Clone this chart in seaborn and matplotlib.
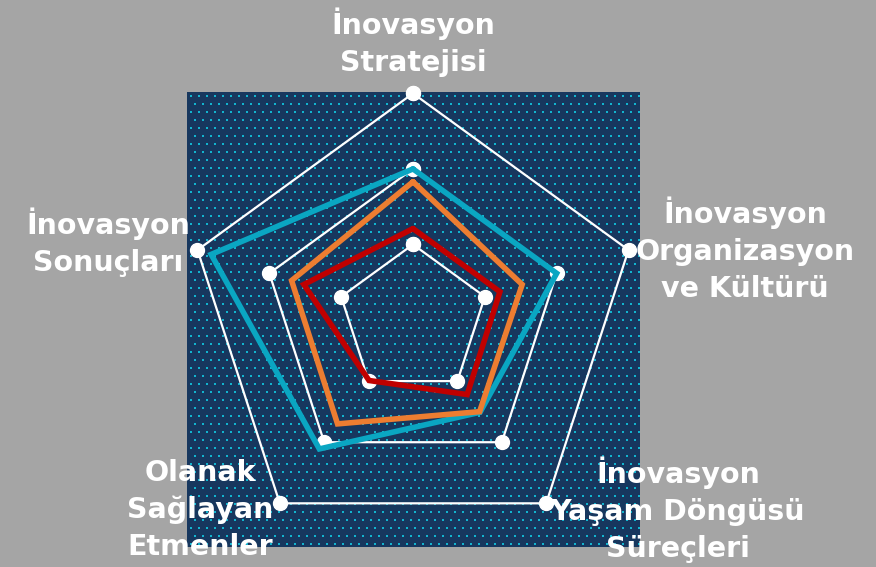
import numpy as np
import pandas as pd
import matplotlib.pyplot as plt
import seaborn as sns

# axes of the radar, clockwise from the top
categories = ['İnovasyon\nStratejisi',
              'İnovasyon\nOrganizasyon\nve Kültürü',
              'İnovasyon\nYaşam Döngüsü\nSüreçleri',
              'Olanak\nSağlayan\nEtmenler',
              'İnovasyon\nSonuçları']
levels = [1, 2, 3]
series_names = ['Seri 1', 'Seri 2', 'Seri 3']
cyan_values = [2.0, 2.0, 1.51, 2.11, 2.81]
orange_values = [1.83, 1.52, 1.50, 1.70, 1.69]
red_values = [1.21, 1.21, 1.22, 0.99, 1.52]

colors = ['#0AA6C2', '#ED7D31', '#C00000']
W, H = 876, 567


def main():
    sns.set_theme(style='white')
    plt.rcParams['font.family'] = ['DejaVu Sans']

    fig = plt.figure(figsize=(W / 100, H / 100), dpi=100)
    fig.patch.set_facecolor('#A5A5A5')

    # dotted dark square behind the radar
    bg = fig.add_axes([187 / W, 1 - 547 / H, 453 / W, 455 / H])
    bg.set_facecolor('#17375E')
    gx, gy = np.meshgrid(np.arange(4, 453, 8), np.arange(3, 455, 8))
    gx = gx + (np.arange(gx.shape[0])[:, None] % 2) * 4
    bg.scatter(gx.ravel(), gy.ravel(), s=3.6, marker='s', color='#12B5CF', linewidths=0)
    bg.set_xlim(0, 453)
    bg.set_ylim(0, 455)
    bg.set_xticks([])
    bg.set_yticks([])
    for sp in bg.spines.values():
        sp.set_visible(False)

    # polar radar axes, centre at (413, 320) px, radius 226.6 px
    R = 226.6
    cx, cy = 413, 320
    ax = fig.add_axes([(cx - R) / W, (H - cy - R) / H, 2 * R / W, 2 * R / H],
                      projection='polar')
    ax.set_theta_zero_location('N')
    ax.set_theta_direction(-1)
    ax.set_ylim(0, 3)
    ax.set_axis_off()

    n = len(categories)
    theta = np.linspace(0, 2 * np.pi, n, endpoint=False)
    theta_c = np.append(theta, theta[0])

    for lv in levels:
        ax.plot(theta_c, [lv] * (n + 1), color='white', lw=1.6,
                marker='o', markersize=10, markerfacecolor='white',
                markeredgecolor='white', clip_on=False, zorder=2)

    rows = []
    for name, vals in zip(series_names, [cyan_values, orange_values, red_values]):
        vv = list(vals) + [vals[0]]
        for t, v in zip(theta_c, vv):
            rows.append({'theta': t, 'value': v, 'series': name})
    df = pd.DataFrame(rows)
    sns.lineplot(data=df, x='theta', y='value', hue='series', palette=colors,
                 sort=False, estimator=None, linewidth=4.0, legend=False,
                 ax=ax, zorder=3)
    for line in ax.get_lines()[len(levels):]:
        line.set_solid_joinstyle('miter')
    ax.set_ylim(0, 3)
    ax.set_axis_off()

    # category labels
    label_pos = [(413, 42), (745, 250), (678, 510), (200, 510), (108, 242)]
    for text, (px, py) in zip(categories, label_pos):
        fig.text(px / W, 1 - py / H, text, color='white', fontsize=20.5,
                 fontweight='bold', ha='center', va='center',
                 linespacing=1.4, zorder=5)

    plt.savefig('out.png', dpi=100, facecolor=fig.get_facecolor())
    plt.close()


if __name__ == "__main__":
    main()
